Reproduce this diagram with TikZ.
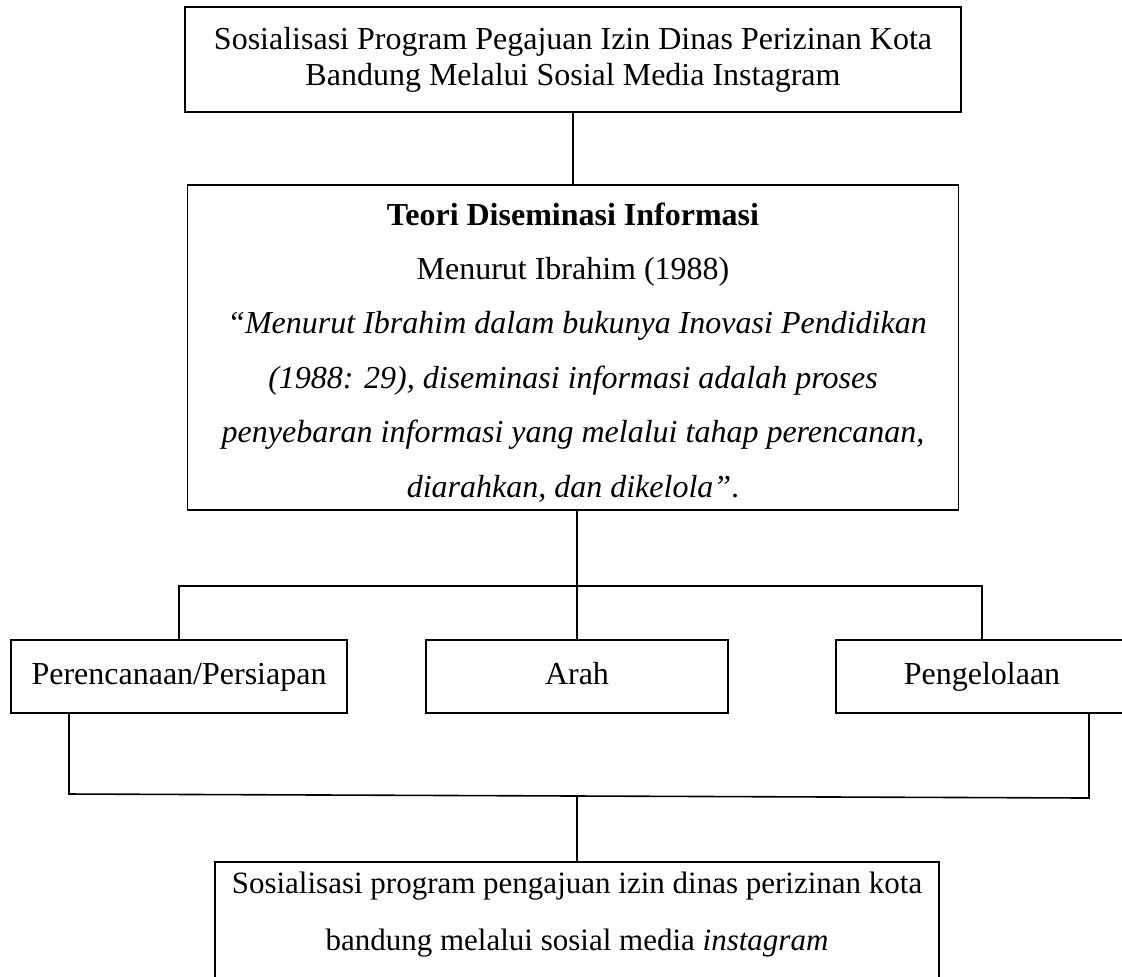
\documentclass[tikz,border=0pt]{standalone}
\usepackage{fontspec}
\setmainfont{Liberation Serif}
\usetikzlibrary{positioning,calc}

\begin{document}
\begin{tikzpicture}[x=0.5pt, y=-0.5pt, line width=0.8pt,
  kotak/.style={draw, inner sep=0pt, align=center, font=\fontsize{16}{18}\selectfont},
  teks/.style={font=\fontsize{16}{27.2}\selectfont},
  tahap/.style={kotak, minimum height=36.5pt, text height=11pt, text depth=3.5pt}]
\useasboundingbox (0,0) rectangle (1122,976);
\node[kotak, minimum width=388pt, minimum height=52.5pt] (atas) at (573,59.5) {Sosialisasi Program Pegajuan Izin Dinas Perizinan Kota\\Bandung Melalui Sosial Media Instagram};
\node[kotak, teks, minimum width=385.5pt, minimum height=162.5pt] (teori) at (573,347.5) {\rule{0pt}{16pt}\textbf{Teori Diseminasi Informasi}\\Menurut Ibrahim (1988)\\\ \textit{“Menurut Ibrahim dalam bukunya Inovasi Pendidikan}\\\textit{(1988: 29), diseminasi informasi adalah proses}\\\textit{penyebaran informasi yang melalui tahap perencanan,}\\\textit{diarahkan, dan dikelola”}.};
\node[tahap, minimum width=168pt] (perencanaan) at (179,676.5) {Perencanaan/Persiapan};
\node[tahap, minimum width=151pt] (arah) at (577,676.5) {Arah};
\node[tahap, minimum width=146pt] (pengelolaan) at (982,676.5) {Pengelolaan};
\node[kotak, font=\fontsize{15.5}{28.5}\selectfont, minimum width=362pt, inner ysep=5pt, anchor=north] (hasil) at (577,861) {Sosialisasi program pengajuan izin dinas perizinan kota\\bandung melalui sosial media \textit{instagram}\rule[-30pt]{0pt}{0pt}};
\coordinate (cabang) at (577,586);
\coordinate (gl) at (69,794);
\coordinate (gr) at (1089,798);
\coordinate (gm) at ($(gl)!0.5!(gr)$);
\draw (atas) -- (teori);
\draw (teori.south -| arah) -- (arah);
\draw (perencanaan.north) |- (cabang) -| (pengelolaan.north);
\draw (perencanaan.south -| gl) -- (gl) -- (gr) -- (pengelolaan.south -| gr);
\draw (gm -| hasil) -- (hasil);
\end{tikzpicture}
\end{document}
